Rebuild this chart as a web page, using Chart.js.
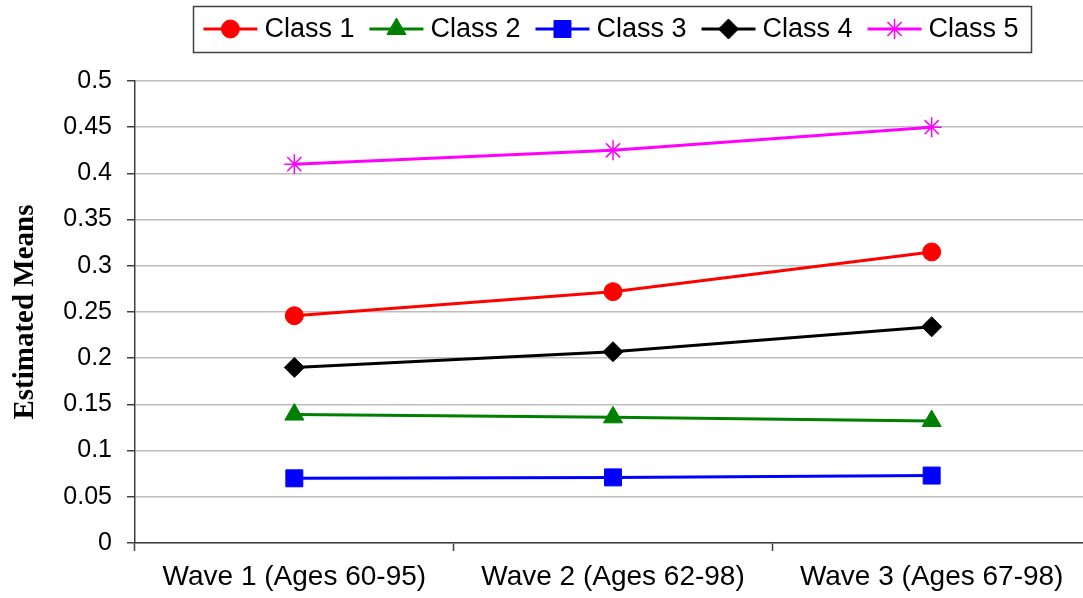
<!DOCTYPE html>
<html>
<head>
<meta charset="utf-8">
<title>Estimated Means by Wave</title>
<script src="https://cdn.jsdelivr.net/npm/chart.js@4.4.0/dist/chart.umd.min.js"></script>
<style>
  html, body { margin: 0; padding: 0; background: #fff; overflow: hidden; }
  #wrap { width: 1104px; height: 598px; }
</style>
</head>
<body>
<div id="wrap"><canvas id="meansChart" width="1104" height="598"></canvas></div>
<script>
// Waves on the x axis
const waves = ['Wave 1 (Ages 60-95)', 'Wave 2 (Ages 62-98)', 'Wave 3 (Ages 67-98)'];

// Estimated means per latent class
const class1 = [0.246, 0.272, 0.315];
const class2 = [0.139, 0.136, 0.132];
const class3 = [0.070, 0.071, 0.073];
const class4 = [0.190, 0.207, 0.234];
const class5 = [0.410, 0.425, 0.450];

const classNames = ['Class 1', 'Class 2', 'Class 3', 'Class 4', 'Class 5'];
const yTickLabels = ['0', '0.05', '0.1', '0.15', '0.2', '0.25', '0.3', '0.35', '0.4', '0.45', '0.5'];

const SANS = '"Liberation Sans", Arial, sans-serif';
const SERIF = '"Liberation Serif", "Times New Roman", serif';

function serie(label, data, color, style, radius) {
    return {
        label: label,
        data: data,
        borderColor: color,
        backgroundColor: color,
        borderWidth: 3,
        pointStyle: style,
        pointRadius: radius,
        pointBorderWidth: style === 'star' ? 1.5 : 1,
        pointBackgroundColor: color,
        pointBorderColor: color,
        tension: 0,
        fill: false
    };
}

// Legend with a frame, each entry drawn as line + marker like the series
const boxedLegend = {
    id: 'boxedLegend',
    afterDraw(chart) {
        const ctx = chart.ctx;
        const sets = chart.data.datasets;
        const lineLen = 54, gapText = 7, gapItem = 15, pad = 10;
        const cy = 29;
        ctx.save();
        ctx.font = '27px ' + SANS;
        const widths = sets.map(d => ctx.measureText(d.label).width);
        const total = widths.reduce((a, b) => a + b, 0) + sets.length * (lineLen + gapText) + (sets.length - 1) * gapItem;
        const cx = 611;
        let x = cx - total / 2;

        ctx.strokeStyle = '#404040';
        ctx.lineWidth = 1.5;
        ctx.strokeRect(Math.round(x - pad) + 0.5, 6.5, Math.round(total + 2 * pad + 3), 46);

        sets.forEach((d, i) => {
            ctx.strokeStyle = d.borderColor;
            ctx.lineWidth = d.borderWidth;
            ctx.beginPath();
            ctx.moveTo(x, cy);
            ctx.lineTo(x + lineLen, cy);
            ctx.stroke();

            ctx.fillStyle = d.pointBackgroundColor;
            ctx.strokeStyle = d.pointBorderColor;
            ctx.lineWidth = d.pointBorderWidth;
            Chart.helpers.drawPoint(ctx, {
                pointStyle: d.pointStyle,
                radius: d.pointRadius,
                borderWidth: d.pointBorderWidth,
                rotation: 0
            }, x + lineLen / 2, cy);

            ctx.fillStyle = '#000';
            ctx.textBaseline = 'middle';
            ctx.textAlign = 'left';
            ctx.fillText(d.label, x + lineLen + gapText, cy + 1);
            x += lineLen + gapText + widths[i] + gapItem;
        });
        ctx.restore();
    }
};

const ctx = document.getElementById('meansChart').getContext('2d');
new Chart(ctx, {
    type: 'line',
    data: {
        labels: waves,
        datasets: [
            serie(classNames[0], class1, '#ff0000', 'circle', 9),
            serie(classNames[1], class2, '#008000', 'triangle', 11),
            serie(classNames[2], class3, '#0000ff', 'rect', 12),
            serie(classNames[3], class4, '#000000', 'rectRot', 10),
            serie(classNames[4], class5, '#ff00ff', 'star', 10)
        ]
    },
    options: {
        responsive: false,
        animation: false,
        layout: { padding: { top: 81, right: 5, left: 0, bottom: 0 } },
        plugins: {
            legend: { display: false },
            tooltip: { enabled: false }
        },
        scales: {
            x: {
                offset: true,
                grid: {
                    offset: true,
                    drawOnChartArea: false,
                    drawTicks: true,
                    tickLength: 8,
                    tickColor: '#404040',
                    tickWidth: 1.5
                },
                border: { color: '#404040', width: 1.5 },
                ticks: {
                    color: '#000',
                    font: { family: SANS, size: 28 },
                    padding: 9,
                    maxRotation: 0,
                    autoSkip: false
                },
                afterFit(scale) { scale.height = 55; }
            },
            y: {
                min: 0,
                max: 0.5,
                ticks: {
                    stepSize: 0.05,
                    callback: (v, i) => yTickLabels[i],
                    color: '#000',
                    font: { family: SANS, size: 25 },
                    padding: 15
                },
                grid: {
                    color: '#bdbdbd',
                    lineWidth: 1.5,
                    tickLength: 8,
                    tickColor: '#404040',
                    tickWidth: 1.5
                },
                border: { color: '#404040', width: 1.5 },
                title: {
                    display: true,
                    text: 'Estimated Means',
                    color: '#000',
                    font: { family: SERIF, size: 29, weight: 'bold' },
                    padding: { top: 8, bottom: 0 }
                },
                afterFit(scale) { scale.width = 135; }
            }
        }
    },
    plugins: [boxedLegend]
});
</script>
</body>
</html>
